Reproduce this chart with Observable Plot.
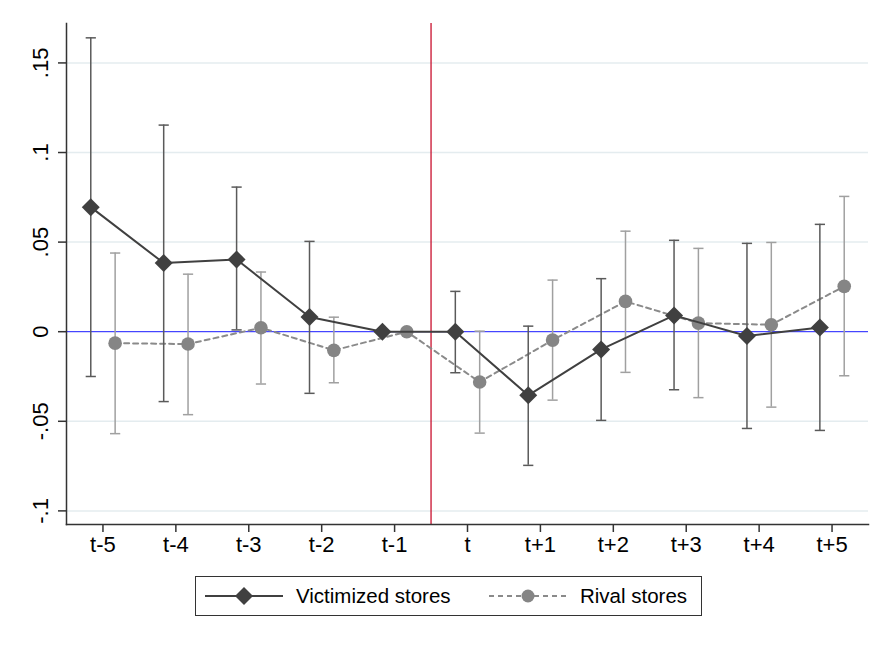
<!DOCTYPE html>
<html>
<head>
<meta charset="utf-8">
<script src="https://cdn.jsdelivr.net/npm/d3@7"></script>
<script src="https://cdn.jsdelivr.net/npm/@observablehq/plot@0.6"></script>
<style>
  html, body { margin: 0; padding: 0; background: #fff; }
  body { width: 891px; height: 648px; position: relative; font-family: "Liberation Sans", Arial, sans-serif; }
  #legend { position: absolute; left: 195px; top: 576px; width: 505px; height: 38px; border: 1.5px solid #333; box-sizing: content-box; }
  .item { position: absolute; top: 0; height: 38px; display: flex; align-items: center; font-size: 20.5px; color: #000; }
  .item svg { margin-right: 12px; }
</style>
</head>
<body>
<div id="chart"></div>
<div id="legend">
  <div class="item" style="left:8px">
    <svg width="80" height="24"><line x1="1" x2="79" y1="12" y2="12" stroke="#404040" stroke-width="2"/><path d="M40,3L49,12L40,21L31,12Z" fill="#404040"/></svg>
    <span>Victimized stores</span>
  </div>
  <div class="item" style="left:292px">
    <svg width="80" height="24"><line x1="1" x2="79" y1="12" y2="12" stroke="#8a8a8a" stroke-width="2" stroke-dasharray="5,4"/><circle cx="40" cy="12" r="6.5" fill="#858585"/></svg>
    <span>Rival stores</span>
  </div>
</div>
<script>
const periods = ["t-5","t-4","t-3","t-2","t-1","t","t+1","t+2","t+3","t+4","t+5"];
const periodIndex = [-5,-4,-3,-2,-1,0,1,2,3,4,5];
const victim   = [0.0695, 0.0383, 0.0403, 0.0082, 0, 0, -0.0355, -0.0099, 0.0091, -0.0024, 0.0024];
const victimLo = [-0.025, -0.039, 0.001, -0.0344, null, -0.0229, -0.0746, -0.0495, -0.0324, -0.054, -0.0551];
const victimHi = [0.164, 0.1153, 0.0807, 0.0504, null, 0.0225, 0.0031, 0.0296, 0.051, 0.0493, 0.0599];
const rival    = [-0.0064, -0.0069, 0.0022, -0.0104, 0, -0.0281, -0.0047, 0.0169, 0.0048, 0.0039, 0.0253];
const rivalLo  = [-0.0569, -0.0463, -0.0292, -0.0285, null, -0.0566, -0.0382, -0.0227, -0.0368, -0.0421, -0.0246];
const rivalHi  = [0.0439, 0.0321, 0.0333, 0.0081, null, 0.0003, 0.0288, 0.0561, 0.0465, 0.0498, 0.0755];
const yTicks = [-0.1, -0.05, 0, 0.05, 0.1, 0.15];

const off = 0.167, cap = 0.07;
const vData = periods.map((p, i) => ({x: periodIndex[i] - off, y: victim[i], lo: victimLo[i], hi: victimHi[i]}));
const rData = periods.map((p, i) => ({x: periodIndex[i] + off, y: rival[i], lo: rivalLo[i], hi: rivalHi[i]}));
const vCI = vData.filter(d => d.lo != null);
const rCI = rData.filter(d => d.lo != null);
const capsOf = (arr) => arr.flatMap(d => [{x1: d.x - cap, x2: d.x + cap, y: d.lo}, {x1: d.x - cap, x2: d.x + cap, y: d.hi}]);

const fmtY = d => {
  if (Math.abs(d) < 1e-9) return "0";
  const s = String(+Math.abs(d).toFixed(3)).replace(/^0/, "");
  return (d < 0 ? "-" : "") + s;
};

const chart = Plot.plot({
  width: 891,
  height: 566,
  marginLeft: 66,
  marginRight: 23,
  marginTop: 23,
  marginBottom: 42,
  style: {fontFamily: "Liberation Sans, Arial, sans-serif", background: "#fff", color: "#000"},
  x: {domain: [-5.5, 5.5]},
  y: {domain: [-0.1076, 0.172]},
  marks: [
    Plot.gridY(yTicks.filter(d => d !== 0), {stroke: "#e4ecef", strokeOpacity: 1, strokeWidth: 1.5}),
    Plot.ruleY([0], {stroke: "#1a1aff", strokeWidth: 1}),
    Plot.ruleX([-0.5], {stroke: "#c8102e", strokeWidth: 1.3}),
    // rival
    Plot.ruleX(rCI, {x: "x", y1: "lo", y2: "hi", stroke: "#a0a0a0", strokeWidth: 1.5}),
    Plot.link(capsOf(rCI), {x1: "x1", x2: "x2", y1: "y", y2: "y", stroke: "#a0a0a0", strokeWidth: 1.5}),
    Plot.line(rData, {x: "x", y: "y", stroke: "#8a8a8a", strokeWidth: 2, strokeDasharray: "5,4"}),
    Plot.dot(rData, {x: "x", y: "y", r: 6.8, fill: "#858585", symbol: "circle"}),
    // victimized
    Plot.ruleX(vCI, {x: "x", y1: "lo", y2: "hi", stroke: "#5a5a5a", strokeWidth: 1.5}),
    Plot.link(capsOf(vCI), {x1: "x1", x2: "x2", y1: "y", y2: "y", stroke: "#5a5a5a", strokeWidth: 1.5}),
    Plot.line(vData, {x: "x", y: "y", stroke: "#404040", strokeWidth: 2}),
    Plot.dot(vData, {x: "x", y: "y", r: 8.1, fill: "#404040", symbol: "diamond2"}),
    // axes
    Plot.axisY(yTicks, {tickFormat: fmtY, tickSize: 8, tickRotate: -90, tickPadding: 11, fontSize: 22, stroke: "#333", strokeWidth: 1.5, fill: "#000"}),
    Plot.axisX(periodIndex, {tickFormat: (d, i) => periods[i], tickSize: 8, tickPadding: 4, fontSize: 22, stroke: "#333", strokeWidth: 1.5, fill: "#000"}),
    Plot.frame({anchor: "left", stroke: "#333", strokeWidth: 1.5}),
    Plot.frame({anchor: "bottom", stroke: "#333", strokeWidth: 1.5})
  ]
});
document.getElementById("chart").appendChild(chart);
</script>
</body>
</html>
